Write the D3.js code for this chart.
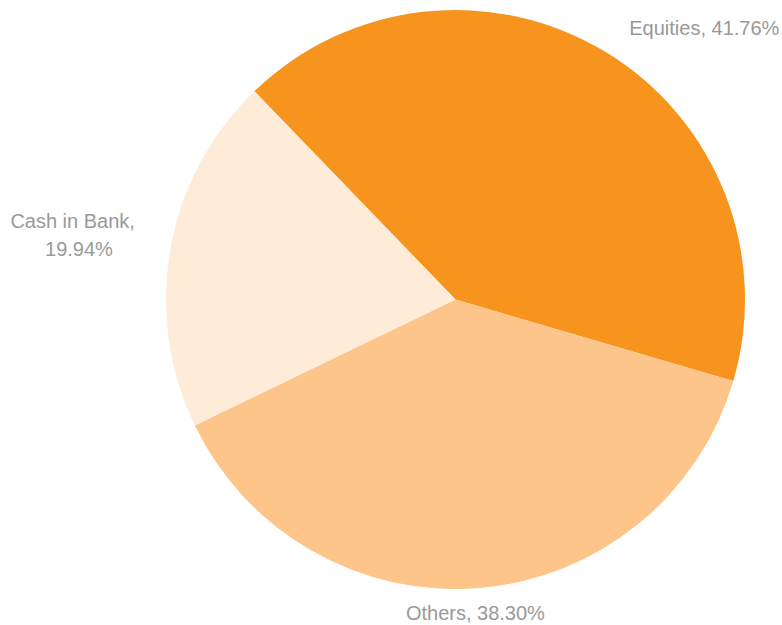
<!DOCTYPE html>
<html>
<head>
<meta charset="utf-8">
<script src="https://cdn.jsdelivr.net/npm/d3@7"></script>
<style>
  html, body { margin: 0; padding: 0; background: #fff; }
  svg { display: block; }
  .slice-label { font-family: "Liberation Sans", Arial, Helvetica, sans-serif; font-size: 20px; fill: #999; }
</style>
</head>
<body>
<div id="chart"></div>
<script>
// Data
const categories = ["Equities", "Others", "Cash in Bank"];
const shares = [41.76, 38.30, 19.94];
const labelLines = [["Equities, 41.76%"], ["Others, 38.30%"], ["Cash in Bank,", "19.94%"]];
const colors = ["#F7941D", "#FDC589", "#FEEBD8"];

const width = 782, height = 625;
const cx = 455.5, cy = 299.5, radius = 289.5;
const startAngle = -44 * Math.PI / 180;

const svg = d3.select('#chart')
    .append('svg')
    .attr('width', width)
    .attr('height', height);

const g = svg.append('g')
    .attr('transform', `translate(${cx},${cy})`);

const pie = d3.pie()
    .sort(null)
    .value(d => d.value)
    .startAngle(startAngle)
    .endAngle(startAngle + 2 * Math.PI);

const data = categories.map((c, i) => ({ name: c, value: shares[i], lines: labelLines[i], color: colors[i] }));
const arcs = pie(data);

const arc = d3.arc().innerRadius(0).outerRadius(radius);

g.selectAll('.slice')
    .data(arcs)
    .enter().append('path')
    .attr('class', 'slice')
    .attr('d', arc)
    .attr('fill', d => d.data.color);

// Labels placed just outside the pie, along each slice's middle angle
// small nudges per anchor side to sit like the original
const nudge = {
    start:  { dx: 11,  dy: -2 },
    end:    { dx: -11, dy: -10 },
    middle: { dx: -6,  dy: 0 }
};
const labelRadius = radius + 25;
arcs.forEach(d => {
    const mid = (d.startAngle + d.endAngle) / 2;
    const x = Math.sin(mid) * labelRadius;
    const y = -Math.cos(mid) * labelRadius;
    const s = Math.sin(mid);
    let anchor = 'middle';
    if (s > 0.3) anchor = 'start';
    else if (s < -0.3) anchor = 'end';
    const nx = x + nudge[anchor].dx, ny = y + nudge[anchor].dy;

    const text = g.append('text')
        .attr('class', 'slice-label')
        .attr('text-anchor', anchor)
        .attr('x', nx)
        .attr('y', ny);

    const n = d.data.lines.length;
    d.data.lines.forEach((line, i) => {
        const t = text.append('tspan')
            .attr('x', nx)
            .attr('dy', i === 0 ? (7 - (n - 1) * 13.5) + 'px' : '28px')
            .text(line);
        if (i > 0 && anchor === 'end') {
            t.attr('dx', '-22px');
        }
    });
});
</script>
</body>
</html>
